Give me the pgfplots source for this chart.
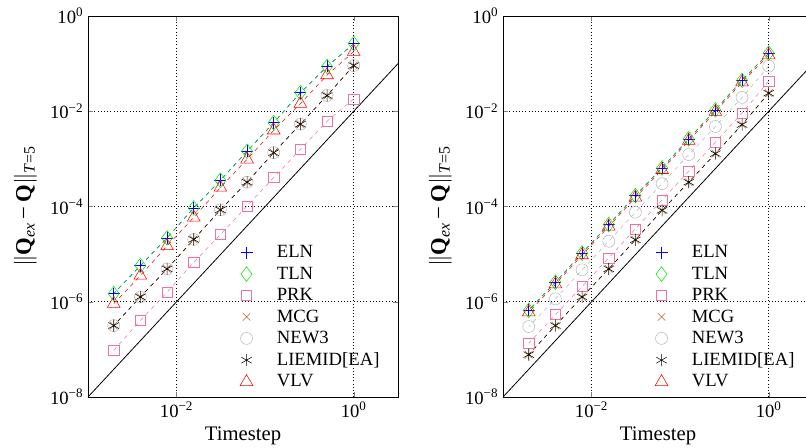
\documentclass[border=0pt]{standalone}
\usepackage{pgfplots}
\pgfplotsset{compat=1.18}
\usepackage{fontspec}
\setmainfont{Liberation Serif}
\definecolor{cELN}{rgb}{0,0,1}
\definecolor{cTLN}{rgb}{0,0.9,0}
\definecolor{cPRK}{rgb}{0.95,0.45,0.6}
\definecolor{cMCG}{rgb}{0.7,0.42,0.15}
\definecolor{cNEW}{rgb}{0.72,0.72,0.72}
\definecolor{cLIE}{rgb}{0,0,0}
\definecolor{cVLV}{rgb}{1,0,0}
\newcommand{\lgfs}{\fontsize{14}{16.8}\selectfont}
\newcommand{\tkfs}{\fontsize{14}{16.8}\selectfont}
\newcommand{\lbfs}{\fontsize{15.5}{18.6}\selectfont}
\newcommand{\ylfs}{\fontsize{17}{20}\selectfont}
\pgfplotsset{
  scale only axis, width=232.5pt, height=285.75pt,
  xmin=0.001, xmax=3.1623, ymin=1e-8, ymax=1,
  xtick={0.01,1}, xticklabels={10\textsuperscript{−2},10\textsuperscript{0}},
  ytick={1e-8,1e-6,1e-4,1e-2,1},
  yticklabels={10\textsuperscript{−8},10\textsuperscript{−6},10\textsuperscript{−4},10\textsuperscript{−2},10\textsuperscript{0}},
  minor xtick={}, minor ytick={},
  tick align=inside, major tick length=4pt,
  xmajorgrids, ymajorgrids,
  major grid style={black, dotted, line width=0.6pt},
  axis line style={line width=0.6pt},
  tick label style={font=\tkfs},
  xlabel style={font=\lbfs},
  ylabel style={font=\ylfs, yshift=3pt},
  xlabel={Timestep},
  ylabel={\(\|\)\textbf{Q}\textsubscript{\textit{ex}}\,−\,\textbf{Q}\(\|\)\textsubscript{\textit{T}=5}},
  legend style={at={(0.49,0.405)}, anchor=north west, draw=none, fill=none,
    font=\lgfs, row sep=1.35pt, inner sep=0pt,
    /tikz/every odd column/.append style={column sep=16pt}},
  legend cell align=left,
}
\begin{document}
\begin{tikzpicture}
\begin{loglogaxis}[at={(66pt,37.5pt)}, anchor=south west]
\addplot[black, solid, line width=0.6pt, forget plot] coordinates {(0.001,1e-8) (3.1623,0.1)};
% ELN
\addplot[cELN, dashed, mark options={solid}, mark=+, mark size=4.5pt, forget plot] coordinates {
(1,0.263) (0.5,0.0871) (0.25,0.0245) (0.125,0.00575) (0.0625,0.00145)
(0.03125,3.55e-4) (0.015625,9.33e-5) (0.0078125,2.19e-5) (0.00390625,5.75e-6) (0.001953125,1.48e-6)};
% TLN
\addplot[cTLN, dashed, mark options={solid}, mark=diamond, mark size=5.5pt, forget plot] coordinates {
(1,0.263) (0.5,0.0871) (0.25,0.0245) (0.125,0.00575) (0.0625,0.00145)
(0.03125,3.55e-4) (0.015625,9.33e-5) (0.0078125,2.19e-5) (0.00390625,5.75e-6) (0.001953125,1.48e-6)};
% PRK
\addplot[cPRK, dashed, mark options={solid}, mark=square, mark size=3.8pt, forget plot] coordinates {
(1,0.0182) (0.5,0.00617) (0.25,0.00158) (0.125,4.07e-4) (0.0625,1.02e-4)
(0.03125,2.57e-5) (0.015625,6.76e-6) (0.0078125,1.58e-6) (0.00390625,4.07e-7) (0.001953125,9.55e-8)};
% MCG
\addplot[cMCG, dashed, mark options={solid}, mark=x, mark size=4pt, forget plot] coordinates {
(1,0.0912) (0.5,0.0214) (0.25,0.00537) (0.125,0.00135) (0.0625,3.24e-4)
(0.03125,8.51e-5) (0.015625,2.04e-5) (0.0078125,4.90e-6) (0.00390625,1.26e-6) (0.001953125,3.16e-7)};
% NEW3
\addplot[cNEW, dashed, mark options={solid}, mark=o, mark size=4.5pt, forget plot] coordinates {
(1,0.0912) (0.5,0.0214) (0.25,0.00537) (0.125,0.00135) (0.0625,3.24e-4)
(0.03125,8.51e-5) (0.015625,2.04e-5) (0.0078125,4.90e-6) (0.00390625,1.26e-6) (0.001953125,3.16e-7)};
% LIEMID
\addplot[cLIE, dashed, mark options={solid}, mark=asterisk, mark size=4.5pt, forget plot] coordinates {
(1,0.0912) (0.5,0.0214) (0.25,0.00537) (0.125,0.00135) (0.0625,3.24e-4)
(0.03125,8.51e-5) (0.015625,2.04e-5) (0.0078125,4.90e-6) (0.00390625,1.26e-6) (0.001953125,3.16e-7)};
% VLV
\addplot[cVLV, dashed, mark options={solid}, mark=triangle, mark size=5.5pt, forget plot] coordinates {
(1,0.178) (0.5,0.0575) (0.25,0.01445) (0.125,0.00398) (0.0625,9.77e-4)
(0.03125,2.51e-4) (0.015625,5.89e-5) (0.0078125,1.48e-5) (0.00390625,3.55e-6) (0.001953125,9.12e-7)};
\addlegendimage{only marks, cELN, mark=+, mark size=4.5pt}\addlegendentry{ELN}
\addlegendimage{only marks, cTLN, mark=diamond, mark size=5.5pt}\addlegendentry{TLN}
\addlegendimage{only marks, cPRK, mark=square, mark size=3.8pt}\addlegendentry{PRK}
\addlegendimage{only marks, cMCG, mark=x, mark size=4pt}\addlegendentry{MCG}
\addlegendimage{only marks, cNEW, mark=o, mark size=4.5pt}\addlegendentry{NEW3}
\addlegendimage{only marks, cLIE, mark=asterisk, mark size=4.5pt}\addlegendentry{LIEMID[EA]}
\addlegendimage{only marks, cVLV, mark=triangle, mark size=5.5pt}\addlegendentry{VLV}
\end{loglogaxis}
\begin{loglogaxis}[at={(377.25pt,37.5pt)}, anchor=south west]
\addplot[black, solid, line width=0.6pt, forget plot] coordinates {(0.001,1e-8) (3.1623,0.1)};
% ELN
\addplot[cELN, dashed, mark options={solid}, mark=+, mark size=4.5pt, forget plot] coordinates {
(1,0.166) (0.5,0.0447) (0.25,0.0107) (0.125,0.00263) (0.0625,6.46e-4)
(0.03125,1.70e-4) (0.015625,4.17e-5) (0.0078125,1.05e-5) (0.00390625,2.57e-6) (0.001953125,6.61e-7)};
% TLN
\addplot[cTLN, dashed, mark options={solid}, mark=diamond, mark size=5.5pt, forget plot] coordinates {
(1,0.166) (0.5,0.0447) (0.25,0.0107) (0.125,0.00263) (0.0625,6.46e-4)
(0.03125,1.70e-4) (0.015625,4.17e-5) (0.0078125,1.05e-5) (0.00390625,2.57e-6) (0.001953125,6.61e-7)};
% PRK
\addplot[cPRK, dashed, mark options={solid}, mark=square, mark size=3.8pt, forget plot] coordinates {
(1,0.0427) (0.5,0.00912) (0.25,0.00224) (0.125,5.50e-4) (0.0625,1.38e-4)
(0.03125,3.39e-5) (0.015625,8.32e-6) (0.0078125,2.09e-6) (0.00390625,5.37e-7) (0.001953125,1.35e-7)};
% MCG
\addplot[cMCG, dashed, mark options={solid}, mark=x, mark size=4pt, forget plot] coordinates {
(1,0.024) (0.5,0.00525) (0.25,0.00129) (0.125,3.24e-4) (0.0625,8.32e-5)
(0.03125,2.0e-5) (0.015625,4.90e-6) (0.0078125,1.26e-6) (0.00390625,3.16e-7) (0.001953125,7.76e-8)};
% NEW3
\addplot[cNEW, dashed, mark options={solid}, mark=o, mark size=4.5pt, forget plot] coordinates {
(1,0.0891) (0.5,0.0195) (0.25,0.00479) (0.125,0.00123) (0.0625,3.02e-4)
(0.03125,7.59e-5) (0.015625,1.86e-5) (0.0078125,4.68e-6) (0.00390625,1.15e-6) (0.001953125,3.02e-7)};
% LIEMID
\addplot[cLIE, dashed, mark options={solid}, mark=asterisk, mark size=4.5pt, forget plot] coordinates {
(1,0.024) (0.5,0.00525) (0.25,0.00129) (0.125,3.24e-4) (0.0625,8.32e-5)
(0.03125,2.0e-5) (0.015625,4.90e-6) (0.0078125,1.26e-6) (0.00390625,3.16e-7) (0.001953125,7.76e-8)};
% VLV
\addplot[cVLV, dashed, mark options={solid}, mark=triangle, mark size=5.5pt, forget plot] coordinates {
(1,0.151) (0.5,0.0407) (0.25,0.00977) (0.125,0.0024) (0.0625,5.89e-4)
(0.03125,1.55e-4) (0.015625,3.80e-5) (0.0078125,9.55e-6) (0.00390625,2.34e-6) (0.001953125,6.03e-7)};
\addlegendimage{only marks, cELN, mark=+, mark size=4.5pt}\addlegendentry{ELN}
\addlegendimage{only marks, cTLN, mark=diamond, mark size=5.5pt}\addlegendentry{TLN}
\addlegendimage{only marks, cPRK, mark=square, mark size=3.8pt}\addlegendentry{PRK}
\addlegendimage{only marks, cMCG, mark=x, mark size=4pt}\addlegendentry{MCG}
\addlegendimage{only marks, cNEW, mark=o, mark size=4.5pt}\addlegendentry{NEW3}
\addlegendimage{only marks, cLIE, mark=asterisk, mark size=4.5pt}\addlegendentry{LIEMID[EA]}
\addlegendimage{only marks, cVLV, mark=triangle, mark size=5.5pt}\addlegendentry{VLV}
\end{loglogaxis}
\pgfresetboundingbox
\path[use as bounding box] (0pt,0pt) rectangle (604.5pt,335.25pt);
\end{tikzpicture}
\end{document}
